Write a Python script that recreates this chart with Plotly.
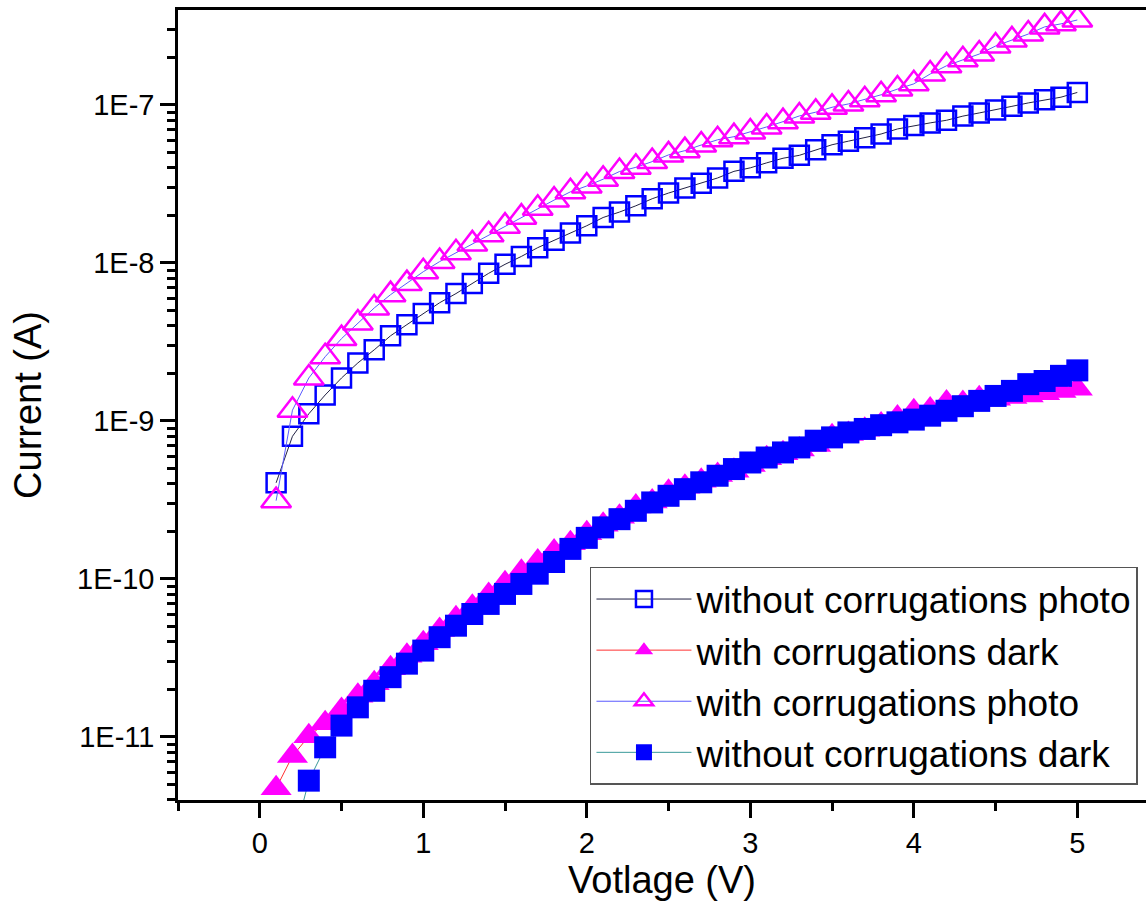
import plotly.graph_objects as go

voltage = [0.1, 0.2, 0.3, 0.4, 0.5, 0.6, 0.7, 0.8, 0.9, 1.0,
           1.1, 1.2, 1.3, 1.4, 1.5, 1.6, 1.7, 1.8, 1.9, 2.0,
           2.1, 2.2, 2.3, 2.4, 2.5, 2.6, 2.7, 2.8, 2.9, 3.0,
           3.1, 3.2, 3.3, 3.4, 3.5, 3.6, 3.7, 3.8, 3.9, 4.0,
           4.1, 4.2, 4.3, 4.4, 4.5, 4.6, 4.7, 4.8, 4.9, 5.0]

without_corr_photo = [4.06e-10, 8.0e-10, 1.11e-9, 1.46e-9, 1.87e-9, 2.33e-9, 2.82e-9, 3.46e-9, 4.07e-9, 4.78e-9,
                      5.6e-9, 6.4e-9, 7.4e-9, 8.6e-9, 9.8e-9, 1.1e-8, 1.25e-8, 1.39e-8, 1.55e-8, 1.72e-8,
                      1.94e-8, 2.1e-8, 2.3e-8, 2.55e-8, 2.77e-8, 2.98e-8, 3.2e-8, 3.45e-8, 3.8e-8, 4.0e-8,
                      4.3e-8, 4.6e-8, 4.8e-8, 5.2e-8, 5.6e-8, 5.9e-8, 6.2e-8, 6.55e-8, 7.05e-8, 7.4e-8,
                      7.7e-8, 8.0e-8, 8.5e-8, 8.9e-8, 9.3e-8, 9.8e-8, 1.03e-7, 1.08e-7, 1.12e-7, 1.2e-7]

with_corr_dark = [4.73e-12, 7.58e-12, 1.01e-11, 1.22e-11, 1.48e-11, 1.82e-11, 2.19e-11, 2.72e-11, 3.26e-11, 3.92e-11,
                  4.75e-11, 5.64e-11, 6.68e-11, 7.92e-11, 9.4e-11, 1.11e-10, 1.29e-10, 1.49e-10, 1.68e-10, 1.95e-10,
                  2.2e-10, 2.48e-10, 2.87e-10, 3.09e-10, 3.57e-10, 3.84e-10, 4.19e-10, 4.55e-10, 4.84e-10, 5.27e-10,
                  5.81e-10, 6.25e-10, 6.6e-10, 7.05e-10, 8.0e-10, 8.27e-10, 8.8e-10, 9.5e-10, 1.05e-9, 1.15e-9,
                  1.18e-9, 1.31e-9, 1.3e-9, 1.39e-9, 1.38e-9, 1.42e-9, 1.45e-9, 1.5e-9, 1.55e-9, 1.6e-9]

with_corr_photo = [3.13e-10, 1.17e-9, 1.87e-9, 2.55e-9, 3.32e-9, 4.17e-9, 5.19e-9, 6.3e-9, 7.4e-9, 8.8e-9,
                   1.02e-8, 1.16e-8, 1.32e-8, 1.51e-8, 1.71e-8, 1.95e-8, 2.22e-8, 2.5e-8, 2.82e-8, 3.07e-8,
                   3.39e-8, 3.79e-8, 4.03e-8, 4.38e-8, 4.83e-8, 5.14e-8, 5.58e-8, 6.02e-8, 6.3e-8, 6.75e-8,
                   7.26e-8, 7.84e-8, 8.52e-8, 9.0e-8, 9.67e-8, 1.015e-7, 1.08e-7, 1.16e-7, 1.26e-7, 1.36e-7,
                   1.57e-7, 1.77e-7, 1.93e-7, 2.10e-7, 2.36e-7, 2.58e-7, 2.81e-7, 3.12e-7, 3.26e-7, 3.45e-7]

without_corr_dark = [1.0e-12, 2.1e-12, 5.29e-12, 8.6e-12, 1.18e-11, 1.54e-11, 1.96e-11, 2.39e-11, 2.91e-11, 3.52e-11,
                     4.28e-11, 5.06e-11, 6.0e-11, 6.95e-11, 8.04e-11, 9.3e-11, 1.08e-10, 1.28e-10, 1.55e-10, 1.82e-10,
                     2.12e-10, 2.39e-10, 2.7e-10, 3.05e-10, 3.36e-10, 3.7e-10, 4.09e-10, 4.5e-10, 4.96e-10, 5.46e-10,
                     5.87e-10, 6.32e-10, 6.8e-10, 7.5e-10, 7.87e-10, 8.46e-10, 8.9e-10, 9.4e-10, 9.8e-10, 1.02e-9,
                     1.08e-9, 1.16e-9, 1.24e-9, 1.34e-9, 1.44e-9, 1.55e-9, 1.71e-9, 1.79e-9, 1.93e-9, 2.09e-9]

series_names = ["without corrugations photo", "with corrugations dark",
                "with corrugations photo", "without corrugations dark"]

x_tick_vals = [0, 1, 2, 3, 4, 5]
x_minor_vals = [-0.5, 0.5, 1.5, 2.5, 3.5, 4.5, 5.5]
y_tick_vals = [1e-11, 1e-10, 1e-9, 1e-8, 1e-7]
y_tick_text = ["1E-11", "1E-10", "1E-9", "1E-8", "1E-7"]
y_minor_vals = [k * 10.0 ** e for e in range(-12, -6) for k in range(2, 10)]

FONT = "Arial, Liberation Sans, Helvetica, sans-serif"

fig = go.Figure()

fig.add_trace(go.Scatter(
    x=voltage, y=without_corr_photo, name=series_names[0], mode="lines+markers",
    line=dict(color="#222244", width=1),
    marker=dict(symbol="square-open", size=19, color="#0000ff", line=dict(width=2.5, color="#0000ff")),
))
fig.add_trace(go.Scatter(
    x=voltage, y=with_corr_dark, name=series_names[1], mode="lines+markers",
    line=dict(color="#ff3030", width=1),
    marker=dict(symbol="triangle-up", size=27, color="#ff00ff", line=dict(width=0)),
))
fig.add_trace(go.Scatter(
    x=voltage, y=with_corr_photo, name=series_names[2], mode="lines+markers",
    line=dict(color="#5a5aff", width=1),
    marker=dict(symbol="triangle-up-open", size=26, color="#ff00ff", line=dict(width=2.5, color="#ff00ff")),
))
fig.add_trace(go.Scatter(
    x=voltage, y=without_corr_dark, name=series_names[3], mode="lines+markers",
    line=dict(color="#3a9a9a", width=1),
    marker=dict(symbol="square", size=22, color="#0000ff", line=dict(width=0)),
))

fig.update_layout(
    width=1146, height=920,
    margin=dict(l=178, r=0, t=10, b=120),
    paper_bgcolor="white", plot_bgcolor="white",
    font=dict(family=FONT, color="black"),
    showlegend=True,
    legend=dict(
        x=0.9917, y=0.019, xanchor="right", yanchor="bottom",
        bgcolor="white", bordercolor="#555555", borderwidth=1.5,
        font=dict(family=FONT, size=37, color="black"),
        tracegroupgap=0, itemsizing="trace", itemwidth=95,
    ),
    xaxis=dict(
        range=[-0.5, 5.42],
        tickmode="array", tickvals=x_tick_vals,
        ticks="outside", ticklen=15, tickwidth=2.5, tickcolor="black",
        tickfont=dict(family=FONT, size=29, color="black"),
        showline=True, linewidth=2.5, linecolor="black", mirror=True,
        showgrid=False, zeroline=False,
        minor=dict(tickmode="array", tickvals=x_minor_vals, ticks="outside",
                   ticklen=8, tickwidth=2.5, tickcolor="black", showgrid=False),
        title=dict(text="Votlage (V)", font=dict(family=FONT, size=38, color="black"), standoff=8),
    ),
    yaxis=dict(
        type="log", range=[-11.399, -6.399],
        tickmode="array", tickvals=y_tick_vals, ticktext=y_tick_text,
        ticks="outside", ticklen=15, tickwidth=2.5, tickcolor="black",
        tickfont=dict(family=FONT, size=29, color="black"),
        showline=True, linewidth=2.5, linecolor="black", mirror=False,
        showgrid=False, zeroline=False,
        minor=dict(tickmode="array", tickvals=y_minor_vals, ticks="outside",
                   ticklen=8, tickwidth=2.5, tickcolor="black", showgrid=False),
        title=dict(text="Current (A)", font=dict(family=FONT, size=38, color="black"), standoff=24),
    ),
)

fig.write_html("out.html", config={"displayModeBar": False},
               post_script="document.body.style.margin='0';document.body.style.overflow='hidden';")
